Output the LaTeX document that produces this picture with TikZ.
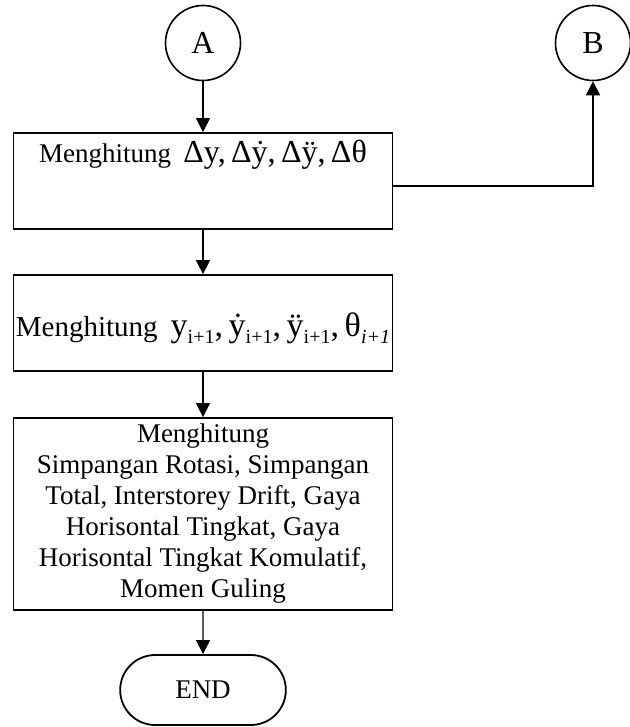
\documentclass[tikz,border=0pt]{standalone}
\usepackage{fontspec}
\setmainfont{Liberation Serif}
\usetikzlibrary{arrows.meta,shapes.misc}

% index set lower and smaller, math terms a bit larger
\newcommand{\idx}[1]{\raisebox{-0.45ex}{\fontsize{10}{10}\selectfont #1}}
\newcommand{\mth}[2][16]{\hspace{0.45em}{\fontsize{#1}{#1}\selectfont #2}}

\begin{document}
\begin{tikzpicture}[
  x=0.5pt, y=-0.5pt,
  font=\fontsize{13.5pt}{15.5pt}\selectfont,
  box/.style={draw, line width=0.9pt, minimum width=189.5pt, inner sep=0pt, align=center},
  conn/.style={draw, circle, line width=0.8pt, minimum size=37.5pt, inner sep=0pt, font=\fontsize{16pt}{16pt}\selectfont},
  term/.style={draw, rounded rectangle, line width=0.9pt, minimum width=89.5pt, minimum height=35pt},
  arrow/.style={-{Triangle[length=7pt, width=7pt]}, line width=0.7pt}
]
\useasboundingbox (0,0) rectangle (629,727);

\node[conn] (a) at (203,43) {A};
\node[conn] (b) at (593,43) {B};

\node[box, text height=15pt, text depth=33pt] (delta) at (203,181)
  {Menghitung\mth{Δy,\,Δẏ,\,Δÿ,\,Δθ}};
\node[box, text height=30.5pt, text depth=17.5pt, font=\fontsize{14.5pt}{16pt}\selectfont] (update) at (203,323)
  {Menghitung\mth[17]{y\idx{i+1},\,ẏ\idx{i+1},\,ÿ\idx{i+1},\,θ\idx{\textit{i+1}}}};
\node[box, minimum height=96pt] (result) at (203,514)
  {Menghitung\\Simpangan Rotasi, Simpangan\\Total, Interstorey Drift, Gaya\\
   Horisontal Tingkat, Gaya\\Horisontal Tingkat Komulatif,\\Momen Guling};
\node[term] (end) at (203,690) {END};

\draw[arrow] (a) -- (delta);
\draw[arrow] (delta) -- (update);
\draw[arrow] (update) -- (result);
\draw[arrow] (result) -- (end);

% side exit up to connector B
\coordinate (turn) at (593,186);
\draw[arrow, line width=0.9pt] (delta.east |- turn) -- (turn) -- (b);
\end{tikzpicture}
\end{document}
